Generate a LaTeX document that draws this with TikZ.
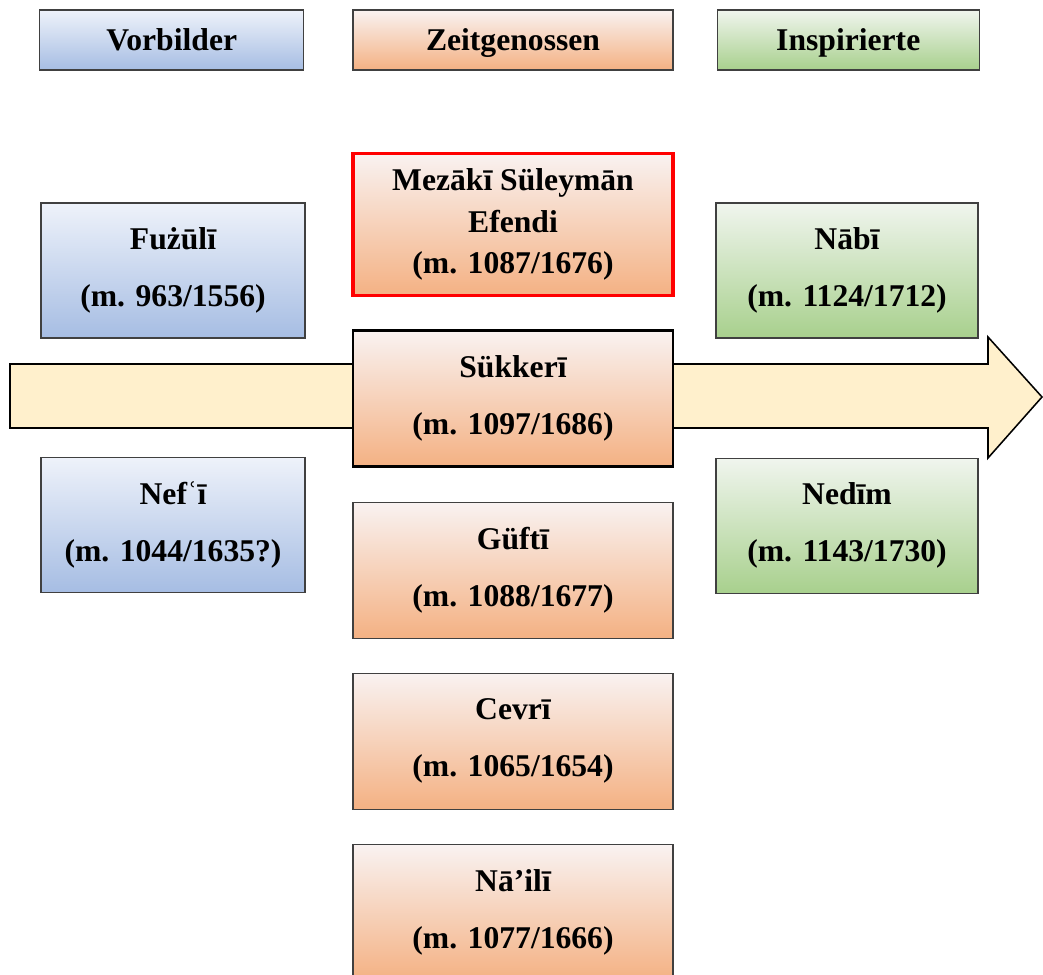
\documentclass[tikz,border=0pt]{standalone}
\usepackage{fontspec}
\setmainfont{Liberation Serif}
\usetikzlibrary{chains,
                positioning,
                shadings}
\definecolor{blauhell}{HTML}{EEF2FA}
\definecolor{blau}{HTML}{A6BDE3}
\definecolor{orangehell}{HTML}{F9F2F1}
\definecolor{orange}{HTML}{F4B183}
\definecolor{gruenhell}{HTML}{F0F5EE}
\definecolor{gruen}{HTML}{A8D08D}
\definecolor{pfeilgelb}{HTML}{FFF0CC}

\begin{document}
\begin{tikzpicture}[
node distance= 8mm and 12mm,
     start chain = going below,
     base/.style = {draw=black!75, line width=0.9pt, align=center,
                    inner sep=0pt, minimum height=33.75mm,
                    font=\bfseries\fontsize{22.5}{40.5}\selectfont},
  vorbild/.style = {base, minimum width=66mm,
                    top color=blauhell, bottom color=blau},
 zeitgen/.style = {base, minimum width=80mm, minimum height=34mm,
                    top color=orangehell, bottom color=orange},
   inspir/.style = {base, minimum width=65.5mm,
                    top color=gruenhell, bottom color=gruen},
     kopf/.style = {minimum height=15mm, text height=15.5pt, text depth=0pt},
    pfeil/.style = {draw=black, line width=1.1pt, fill=pfeilgelb,
                    line join=miter}
                    ]
\useasboundingbox (0,0) rectangle (26.075,-24.375);
 % time arrow
\draw[pfeil] (0.25,-9.1) -- (24.7,-9.1) -- (24.7,-8.425) -- (26.05,-9.925)
             -- (24.7,-11.45) -- (24.7,-10.7) -- (0.25,-10.7) -- cycle;
 % headers
\node (kzeit)  [zeitgen,kopf,minimum height=15mm] at (12.825,-1) {Zeitgenossen};
\node (kvorb)  [vorbild,kopf,left=1.2 of kzeit]   {Vorbilder};
\node (kinsp)  [inspir,kopf,right=1.075 of kzeit] {Inspirierte};
 % contemporaries
\begin{scope}
\clip (0,0) rectangle (26.075,-24.375);
\node (mezaki)  [zeitgen,on chain,minimum height=35.5mm,draw=red,line width=2.5pt,
                 font=\bfseries\fontsize{22.5}{29.5}\selectfont]
                 at (12.825,-5.6125) {Mezākī Süleymān\\Efendi\\(m. 1087/1676)};
\node (sukkeri) [zeitgen,on chain,draw=black,line width=2pt]
                 {Sükkerī\\(m. 1097/1686)};
\node (gufti)   [zeitgen,node distance=8.4mm,on chain] {Güftī\\(m. 1088/1677)};
\node (cevri)   [zeitgen,node distance=8.4mm,on chain] {Cevrī\\(m. 1065/1654)};
\node (naili)   [zeitgen,node distance=8.6mm,on chain] {Nā’ilī\\(m. 1077/1666)};
\end{scope}
 % models and inspired
\node (fuzuli) [vorbild] at (4.325,-6.7625) {Fużūlī\\(m. 963/1556)};
\node (nefi)   [vorbild,below=2.95 of fuzuli] {Nefʿī\\(m. 1044/1635?)};
\node (nabi)   [inspir] at (21.175,-6.7625) {Nābī\\(m. 1124/1712)};
\node (nedim)  [inspir,below=2.975 of nabi] {Nedīm\\(m. 1143/1730)};
\end{tikzpicture}
\end{document}
